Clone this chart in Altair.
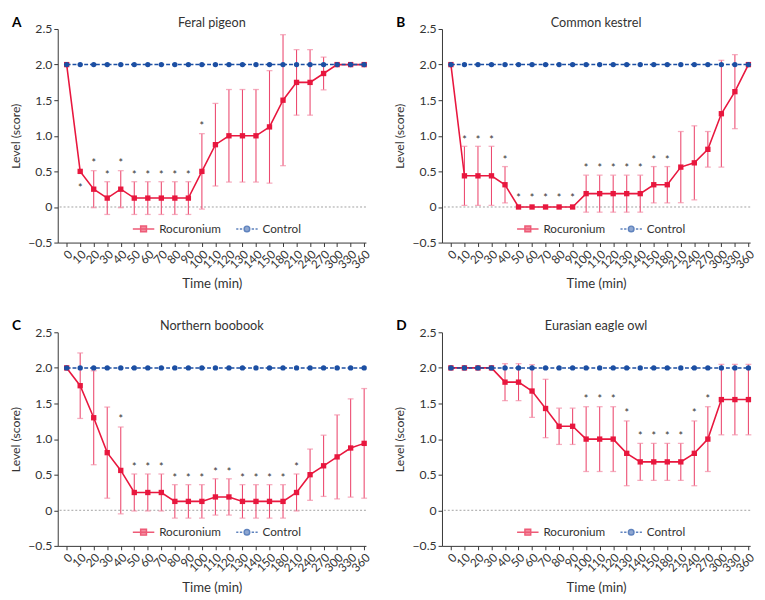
import altair as alt
import pandas as pd

TIMES = ["0", "10", "20", "30", "40", "50", "60", "70", "80", "90", "100", "110",
         "120", "130", "140", "150", "180", "210", "240", "270", "300", "330", "360"]
SERIES = ["Rocuronium", "Control"]
CONTROL = [2.0, 2.0, 2.0, 2.0, 2.0, 2.0, 2.0, 2.0, 2.0, 2.0, 2.0, 2.0,
           2.0, 2.0, 2.0, 2.0, 2.0, 2.0, 2.0, 2.0, 2.0, 2.0, 2.0]
Y_TICKS = [-0.5, 0.0, 0.5, 1.0, 1.5, 2.0, 2.5]

A_MEAN = [2.0, 0.5, 0.25, 0.125, 0.25, 0.125, 0.125, 0.125, 0.125, 0.125, 0.5, 0.875,
          1.0, 1.0, 1.0, 1.125, 1.5, 1.75, 1.75, 1.875, 2.0, 2.0, 2.0]
A_SD = [0, 0, 0.26, 0.23, 0.26, 0.23, 0.23, 0.23, 0.23, 0.23, 0.53, 0.58,
        0.65, 0.65, 0.65, 0.79, 0.92, 0.46, 0.46, 0.23, 0, 0, 0]
A_STAR = [None, 0.29, 0.65, 0.48, 0.65, 0.48, 0.48, 0.48, 0.48, 0.48, 1.16, None,
          None, None, None, None, None, None, None, None, None, None, None]

B_MEAN = [2.0, 0.4375, 0.4375, 0.4375, 0.3125, 0.0, 0.0, 0.0, 0.0, 0.0, 0.1875, 0.1875,
          0.1875, 0.1875, 0.1875, 0.3125, 0.3125, 0.56, 0.62, 0.81, 1.31, 1.62, 2.0]
B_SD = [0, 0.415, 0.415, 0.415, 0.255, 0, 0, 0, 0, 0, 0.26, 0.26,
        0.26, 0.26, 0.26, 0.255, 0.255, 0.5, 0.52, 0.25, 0.75, 0.52, 0]
B_STAR = [None, 0.97, 0.97, 0.97, 0.69, 0.15, 0.15, 0.15, 0.15, 0.15, 0.57, 0.57,
          0.57, 0.57, 0.57, 0.69, 0.69, None, None, None, None, None, None]

C_MEAN = [2.0, 1.75, 1.3, 0.81, 0.56, 0.25, 0.25, 0.25, 0.125, 0.125, 0.125, 0.1875,
          0.1875, 0.125, 0.125, 0.125, 0.125, 0.25, 0.5, 0.625, 0.75, 0.875, 0.94]
C_SD = [0, 0.46, 0.66, 0.64, 0.61, 0.26, 0.26, 0.26, 0.235, 0.235, 0.235, 0.255,
        0.255, 0.235, 0.235, 0.235, 0.235, 0.26, 0.36, 0.43, 0.59, 0.69, 0.77]
C_STAR = [None, None, None, None, 1.31, 0.64, 0.64, 0.64, 0.48, 0.48, 0.48, 0.56,
          0.56, 0.48, 0.48, 0.48, 0.48, 0.64, None, None, None, None, None]

D_MEAN = [2.0, 2.0, 2.0, 2.0, 1.8, 1.8, 1.675, 1.43, 1.18, 1.18, 1.0, 1.0,
          1.0, 0.8, 0.68, 0.68, 0.68, 0.68, 0.8, 1.0, 1.555, 1.555, 1.555]
D_SD = [0, 0, 0, 0, 0.26, 0.26, 0.37, 0.41, 0.255, 0.255, 0.455, 0.455,
        0.455, 0.455, 0.26, 0.26, 0.26, 0.26, 0.455, 0.455, 0.495, 0.495, 0.495]
D_STAR = [None, None, None, None, None, None, None, None, None, None, 1.59, 1.59,
          1.59, 1.39, 1.07, 1.07, 1.07, 1.07, 1.39, 1.59, None, None, None]

RED = "#e8173e"
STEM = "#ec4a70"
CAP = "#f28aa4"
BLUE = "#1c4fa3"
TXT = "#333333"
FONT = "Lato"

PATH_SQ = "M-1,0H1M-0.27,-0.27H0.27V0.27H-0.27Z"
PATH_CI = ("M-1,0H-0.8M-0.66,0H-0.44M0.44,0H0.66M0.8,0H1"
           "M0.26,0A0.26,0.26 0 1,1 -0.26,0A0.26,0.26 0 1,1 0.26,0Z")

W, H = 316, 219
XDOM = [-0.66, 22.13]
YDOM = [-0.5, 2.5]

label_arr = "[" + ",".join("'%s'" % t for t in TIMES) + "]"

X_AXIS = alt.Axis(values=list(range(len(TIMES))),
                  labelExpr=f"{label_arr}[datum.value]",
                  labelAngle=315, labelFontSize=12, labelPadding=2,
                  labelOverlap=False,
                  title="Time (min)", titleFontSize=13.5, titlePadding=7)
Y_AXIS = alt.Axis(values=Y_TICKS,
                  labelExpr="abs(datum.value) < 0.01 ? '0' : format(datum.value, '.1f')",
                  labelFontSize=12.5, labelOverlap=False, title="Level (score)",
                  titleFontSize=12.5, titlePadding=6)


def xenc(field="idx"):
    return alt.X(f"{field}:Q", scale=alt.Scale(domain=XDOM, nice=False, zero=False),
                 axis=X_AXIS, title="Time (min)")


def yenc(field):
    return alt.Y(f"{field}:Q", scale=alt.Scale(domain=YDOM, nice=False, zero=False),
                 axis=Y_AXIS, title="Level (score)")


def panel(letter, title, mean, sd, star):
    n = len(TIMES)
    df = pd.DataFrame({"idx": list(range(n)), "time": TIMES, "mean": mean, "sd": sd,
                       "star": star, "ctrl": CONTROL})
    df["lo"] = df["mean"] - df["sd"]
    df["hi"] = df["mean"] + df["sd"]
    df["z"] = 0.0
    err = df[df["sd"] > 0]
    stars = df[df["star"].notna()].copy()
    stars["s"] = "*"

    base = alt.Chart(df)
    zero = alt.Chart(df.head(1)).mark_rule(color="#888888", strokeDash=[2, 2],
                                           strokeWidth=0.8).encode(y=yenc("z"))
    stem = alt.Chart(err).mark_rule(color=STEM, strokeWidth=1.1).encode(
        x=xenc(), y=yenc("lo"), y2="hi")
    cap_hi = alt.Chart(err).mark_tick(color=CAP, orient="horizontal", size=6,
                                      thickness=1.3).encode(x=xenc(), y=yenc("hi"))
    cap_lo = alt.Chart(err).mark_tick(color=CAP, orient="horizontal", size=6,
                                      thickness=1.3).encode(x=xenc(), y=yenc("lo"))
    rline = base.mark_line(color=RED, strokeWidth=1.6).encode(x=xenc(), y=yenc("mean"))
    rpts = base.mark_point(shape="square", filled=True, size=30, color=RED,
                           opacity=1).encode(x=xenc(), y=yenc("mean"))
    cline = base.mark_line(color=BLUE, strokeWidth=1.5, strokeDash=[4, 2]).encode(
        x=xenc(), y=yenc("ctrl"))
    cpts = base.mark_point(shape="circle", filled=True, size=30, color=BLUE,
                           opacity=1).encode(x=xenc(), y=yenc("ctrl"))
    st = alt.Chart(stars).mark_text(fontSize=11, color=TXT, font=FONT, baseline="middle",
                                    dy=3).encode(x=xenc(), y=yenc("star"), text="s:N")
    lab = alt.Chart(df.head(1)).mark_text(fontSize=14, fontWeight="bold", color="black",
                                          font=FONT, align="left").encode(
        x=alt.value(-47), y=alt.value(-6), text=alt.value(letter))
    ttl = alt.Chart(df.head(1)).mark_text(fontSize=13, color=TXT, font=FONT,
                                          align="center").encode(
        x=alt.value(W / 2), y=alt.value(-6), text=alt.value(title))

    leg_df = pd.DataFrame({"series": SERIES, "idx": [0, 0], "y": [9, 9]})
    legend = alt.Legend(title=None, orient="none", legendX=76, legendY=193,
                        direction="horizontal", symbolSize=484, symbolStrokeWidth=1.5,
                        labelFontSize=12, labelColor=TXT, labelFont=FONT,
                        labelOffset=4, columnPadding=12, padding=0)
    leg = alt.Chart(leg_df).mark_point(clip=True, filled=True, size=30).encode(
        x=xenc(), y=yenc("y"),
        fill=alt.Fill("series:N", scale=alt.Scale(domain=SERIES, range=[RED, BLUE]),
                      sort=SERIES, legend=legend),
        stroke=alt.Stroke("series:N", scale=alt.Scale(domain=SERIES, range=[RED, BLUE]),
                          sort=SERIES, legend=legend),
        shape=alt.Shape("series:N", scale=alt.Scale(domain=SERIES, range=[PATH_SQ, PATH_CI]),
                        sort=SERIES, legend=legend),
    )

    return alt.layer(zero, stem, cap_hi, cap_lo, rline, rpts, cline, cpts, st, leg,
                     lab, ttl).properties(width=W, height=H)


pA = panel("A", "Feral pigeon", A_MEAN, A_SD, A_STAR)
pB = panel("B", "Common kestrel", B_MEAN, B_SD, B_STAR)
pC = panel("C", "Northern boobook", C_MEAN, C_SD, C_STAR)
pD = panel("D", "Eurasian eagle owl", D_MEAN, D_SD, D_STAR)

res = dict(fill="independent", stroke="independent", shape="independent")
row1 = alt.hconcat(pA, pB, spacing=20).resolve_scale(**res)
row2 = alt.hconcat(pC, pD, spacing=20).resolve_scale(**res)

chart = alt.vconcat(row1, row2, spacing=28).resolve_scale(**res).properties(
    padding=0
).configure_view(stroke="transparent").configure_axis(
    grid=False, domainColor=TXT, tickColor=TXT, tickSize=4, labelColor=TXT,
    titleColor=TXT, labelFont=FONT, titleFont=FONT, titleFontWeight="normal"
)

chart.save("out.html", embed_options={"renderer": "svg", "actions": False})
